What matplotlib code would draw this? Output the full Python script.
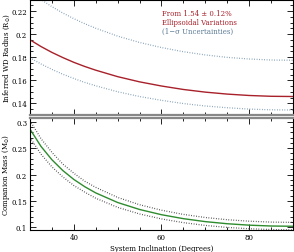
import numpy as np
import matplotlib
matplotlib.use('Agg')
import matplotlib.pyplot as plt
from matplotlib.ticker import MultipleLocator

# inclination grid (degrees)
incl = [30, 32.5, 35, 37.5, 40, 42.5, 45, 50, 55, 60, 65, 70, 75, 80, 85, 90]

# inferred WD radius (R_sun) and 1-sigma band
radius = [0.1951, 0.1893, 0.1842, 0.1797, 0.1756, 0.1720, 0.1688, 0.1632, 0.1587, 0.1551, 0.1521, 0.1498, 0.1481, 0.1469, 0.1462, 0.1460]
radius_hi = [0.2370, 0.2300, 0.2238, 0.2183, 0.2134, 0.2090, 0.2051, 0.1983, 0.1928, 0.1884, 0.1848, 0.1820, 0.1799, 0.1785, 0.1776, 0.1774]
radius_lo = [0.1795, 0.1742, 0.1695, 0.1653, 0.1616, 0.1582, 0.1553, 0.1501, 0.1460, 0.1427, 0.1399, 0.1378, 0.1363, 0.1351, 0.1345, 0.1343]

# companion mass (M_sun) and band
mass = [0.286, 0.2534, 0.228, 0.2075, 0.1907, 0.1769, 0.1652, 0.147, 0.1338, 0.1239, 0.1164, 0.1108, 0.1068, 0.1041, 0.1025, 0.102]
mass_hi = [0.302, 0.268, 0.242, 0.2197, 0.2025, 0.1872, 0.1757, 0.1566, 0.1428, 0.1324, 0.1245, 0.1186, 0.1144, 0.1116, 0.1099, 0.1094]
mass_lo = [0.270, 0.2387, 0.2145, 0.1955, 0.1792, 0.1666, 0.1551, 0.1378, 0.1253, 0.1159, 0.1089, 0.1036, 0.0998, 0.0973, 0.0958, 0.0953]

red = '#a8202a'
blue = '#6e8faa'
green = '#2e8b2e'
font = 'DejaVu Serif'
fs = 5

fig = plt.figure(figsize=(2.94, 2.53), dpi=100)
ax1 = fig.add_axes([0.102, 0.5415, 0.8946, 0.4565])
ax2 = fig.add_axes([0.102, 0.085, 0.8946, 0.4466])

# top panel
ax1.plot(incl, radius_hi, color=blue, ls=(0, (0.6, 1.4)), lw=0.9)
ax1.plot(incl, radius_lo, color=blue, ls=(0, (0.6, 1.4)), lw=0.9)
ax1.plot(incl, radius, color=red, lw=1.0)
ax1.set_xlim(30, 90)
ax1.set_ylim(0.13, 0.23)
ax1.yaxis.set_minor_locator(MultipleLocator(0.005))
ax1.set_yticks([0.14, 0.16, 0.18, 0.2, 0.22])
ax1.set_yticklabels(['0.14', '0.16', '0.18', '0.2', '0.22'])
ax1.set_ylabel(r'Inferred WD Radius (R$_{\odot}$)', fontsize=fs, family=font)
ax1.yaxis.set_label_coords(-0.07, 0.5)
ax1.text(0.503, 0.87, 'From 1.54 \u00b1 0.12%', transform=ax1.transAxes, color=red, fontsize=fs, family=font)
ax1.text(0.503, 0.79, 'Ellipsoidal Variations', transform=ax1.transAxes, color=red, fontsize=fs, family=font)
ax1.text(0.503, 0.71, '(1\u2212\u03c3 Uncertainties)', transform=ax1.transAxes, color='#5a7a94', fontsize=fs, family=font)
ax1.tick_params(labelbottom=False)

# bottom panel
ax2.plot(incl, mass_hi, color='#333333', ls=(0, (0.6, 1.4)), lw=0.9)
ax2.plot(incl, mass_lo, color='#333333', ls=(0, (0.6, 1.4)), lw=0.9)
ax2.plot(incl, mass, color=green, lw=1.0)
ax2.set_xlim(30, 90)
ax2.set_ylim(0.094, 0.308)
ax2.set_yticks([0.1, 0.15, 0.2, 0.25, 0.3])
ax2.set_yticklabels(['0.1', '0.15', '0.2', '0.25', '0.3'])
ax2.yaxis.set_minor_locator(MultipleLocator(0.01))
ax2.set_ylabel(r'Companion Mass (M$_{\odot}$)', fontsize=fs, family=font)
ax2.yaxis.set_label_coords(-0.07, 0.5)
ax2.set_xlabel('System Inclination (Degrees)', fontsize=fs, family=font)
ax2.xaxis.set_label_coords(0.5, -0.12)

for ax in (ax1, ax2):
    ax.set_xticks([40, 60, 80])
    ax.xaxis.set_minor_locator(MultipleLocator(5))
    ax.tick_params(which='both', direction='in', top=True, right=True, width=0.6, labelsize=fs, pad=2)
    ax.tick_params(which='major', length=4)
    ax.tick_params(which='minor', length=2)
    for lab in ax.get_xticklabels() + ax.get_yticklabels():
        lab.set_family(font)
    for s in ax.spines.values():
        s.set_linewidth(0.8)

ax1.spines['bottom'].set_color('#888888')
ax1.spines['bottom'].set_linewidth(1.6)
ax2.spines['top'].set_color('#888888')
ax2.spines['top'].set_linewidth(1.6)

fig.savefig('out.png', dpi=100)
